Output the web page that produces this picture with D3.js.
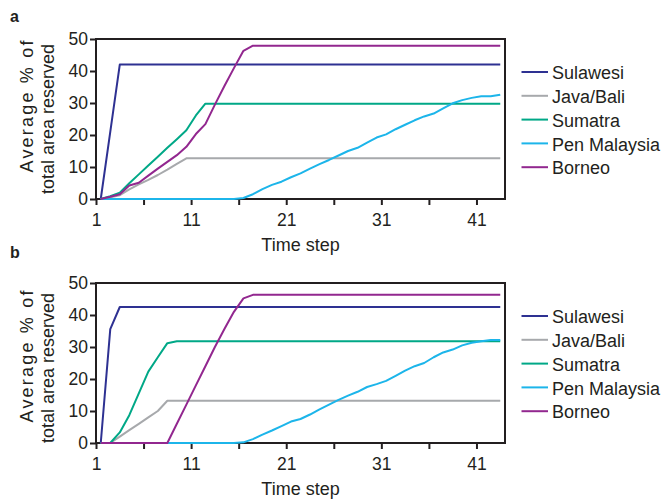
<!DOCTYPE html>
<meta charset="utf-8">
<script src="https://d3js.org/d3.v7.min.js"></script>
<style>
  body { margin: 0; background: #fff; }
  text { font-family: "Liberation Sans", Arial, Helvetica, sans-serif; fill: #231f20; }
</style>
<div id="chart"></div>
<script>

    // categories (time steps) and tick labels
    var steps = d3.range(1, 44);
    var xTickValues = [0.5, 5.5, 10.5, 15.5, 20.5, 25.5, 30.5, 35.5, 40.5];
    var xTickLabels = ["1", "", "11", "", "21", "", "31", "", "41"];
    var yTicks = [0, 10, 20, 30, 40, 50];

    var names = ["Sulawesi", "Java/Bali", "Sumatra", "Pen Malaysia", "Borneo"];
    var colors = ["#2e3192", "#a7a9ac", "#00a887", "#1cb5ea", "#92278f"];

    // panel a
    var sulawesiA = [0, 21, 42, 42, 42, 42, 42, 42, 42, 42, 42, 42, 42, 42, 42, 42, 42, 42, 42, 42, 42, 42, 42, 42, 42, 42, 42, 42, 42, 42, 42, 42, 42, 42, 42, 42, 42, 42, 42, 42, 42, 42, 42];
    var javaA = [0, 0.5, 1.2, 3.0, 4.6, 6.0, 7.5, 9.2, 11.0, 12.7, 12.7, 12.7, 12.7, 12.7, 12.7, 12.7, 12.7, 12.7, 12.7, 12.7, 12.7, 12.7, 12.7, 12.7, 12.7, 12.7, 12.7, 12.7, 12.7, 12.7, 12.7, 12.7, 12.7, 12.7, 12.7, 12.7, 12.7, 12.7, 12.7, 12.7, 12.7, 12.7, 12.7];
    var sumatraA = [0, 0.9, 2.0, 4.9, 7.7, 10.5, 13.2, 16.0, 18.7, 21.5, 26.1, 29.8, 29.8, 29.8, 29.8, 29.8, 29.8, 29.8, 29.8, 29.8, 29.8, 29.8, 29.8, 29.8, 29.8, 29.8, 29.8, 29.8, 29.8, 29.8, 29.8, 29.8, 29.8, 29.8, 29.8, 29.8, 29.8, 29.8, 29.8, 29.8, 29.8, 29.8, 29.8];
    var penA = [0, 0, 0, 0, 0, 0, 0, 0, 0, 0, 0, 0, 0, 0, 0, 0.3, 1.5, 3.1, 4.4, 5.4, 6.8, 8.0, 9.5, 10.9, 12.2, 13.6, 15.0, 16.0, 17.6, 19.2, 20.2, 21.8, 23.2, 24.6, 25.8, 26.7, 28.3, 29.9, 30.9, 31.6, 32.1, 32.1, 32.6];
    var borneoA = [0, 0.7, 1.5, 4.2, 5.1, 7.3, 9.5, 11.6, 13.7, 16.3, 20.3, 23.4, 29.5, 35.3, 40.9, 46.3, 47.9, 47.9, 47.9, 47.9, 47.9, 47.9, 47.9, 47.9, 47.9, 47.9, 47.9, 47.9, 47.9, 47.9, 47.9, 47.9, 47.9, 47.9, 47.9, 47.9, 47.9, 47.9, 47.9, 47.9, 47.9, 47.9, 47.9];

    // panel b
    var sulawesiB = [0, 35.6, 42.5, 42.5, 42.5, 42.5, 42.5, 42.5, 42.5, 42.5, 42.5, 42.5, 42.5, 42.5, 42.5, 42.5, 42.5, 42.5, 42.5, 42.5, 42.5, 42.5, 42.5, 42.5, 42.5, 42.5, 42.5, 42.5, 42.5, 42.5, 42.5, 42.5, 42.5, 42.5, 42.5, 42.5, 42.5, 42.5, 42.5, 42.5, 42.5, 42.5, 42.5];
    var javaB = [0, 0, 2.0, 4.0, 6.0, 8.0, 10.0, 13.2, 13.2, 13.2, 13.2, 13.2, 13.2, 13.2, 13.2, 13.2, 13.2, 13.2, 13.2, 13.2, 13.2, 13.2, 13.2, 13.2, 13.2, 13.2, 13.2, 13.2, 13.2, 13.2, 13.2, 13.2, 13.2, 13.2, 13.2, 13.2, 13.2, 13.2, 13.2, 13.2, 13.2, 13.2, 13.2];
    var sumatraB = [0, 0, 3.3, 8.7, 15.5, 22.3, 26.8, 31.2, 31.8, 31.8, 31.8, 31.8, 31.8, 31.8, 31.8, 31.8, 31.8, 31.8, 31.8, 31.8, 31.8, 31.8, 31.8, 31.8, 31.8, 31.8, 31.8, 31.8, 31.8, 31.8, 31.8, 31.8, 31.8, 31.8, 31.8, 31.8, 31.8, 31.8, 31.8, 31.8, 31.8, 31.8, 31.8];
    var penB = [0, 0, 0, 0, 0, 0, 0, 0, 0, 0, 0, 0, 0, 0, 0, 0.2, 1.2, 2.6, 3.9, 5.3, 6.7, 7.5, 8.9, 10.5, 12.0, 13.5, 14.8, 16.0, 17.5, 18.4, 19.4, 21.0, 22.6, 24.0, 25.0, 26.8, 28.3, 29.2, 30.5, 31.3, 31.8, 32.2, 32.2];
    var borneoB = [0, 0, 0, 0, 0, 0, 0, 0, 6.0, 12.0, 18.0, 24.0, 30.0, 35.6, 41.0, 45.2, 46.3, 46.3, 46.3, 46.3, 46.3, 46.3, 46.3, 46.3, 46.3, 46.3, 46.3, 46.3, 46.3, 46.3, 46.3, 46.3, 46.3, 46.3, 46.3, 46.3, 46.3, 46.3, 46.3, 46.3, 46.3, 46.3, 46.3];

    var width = 664, height = 499;
    var left = 96, right = 505, plotH = 160;

    var svg = d3.select("#chart")
        .append("svg")
        .attr("width", width)
        .attr("height", height);

    var x = d3.scaleLinear().domain([0.5, 43.5]).range([left, right]);

    // titleY: centres of the two rotated y-title lines, relative to panel top
    function drawPanel(top, label, labelY, titleY, series) {
        var g = svg.append("g");
        var y = d3.scaleLinear().domain([0, 50]).range([top + plotH, top]);

        // frame (lines are drawn on top of it)
        g.append("rect")
            .attr("x", left)
            .attr("y", top)
            .attr("width", right - left)
            .attr("height", plotH)
            .attr("fill", "none")
            .attr("stroke", "#231f20")
            .attr("stroke-width", 2);

        // x axis
        var xAxis = g.append("g")
            .attr("transform", "translate(0," + (top + plotH) + ")")
            .call(d3.axisBottom(x)
                .tickValues(xTickValues)
                .tickFormat(function (d, i) { return xTickLabels[i]; })
                .tickSize(6)
                .tickPadding(9));
        // y axis
        var yAxis = g.append("g")
            .attr("transform", "translate(" + left + ",0)")
            .call(d3.axisLeft(y).tickValues(yTicks).tickSize(6).tickPadding(2));

        [xAxis, yAxis].forEach(function (a) {
            a.select(".domain").remove();
            a.selectAll("line").attr("stroke", "#231f20").attr("stroke-width", 2);
            a.selectAll("text")
                .style("font-size", "17.5px")
                .style("font-family", "'Liberation Sans', Arial, sans-serif")
                .attr("fill", "#231f20");
        });

        // lines
        var line = d3.line()
            .x(function (d, i) { return x(steps[i]); })
            .y(function (d) { return y(d); });

        series.forEach(function (s, i) {
            g.append("path")
                .datum(s)
                .attr("fill", "none")
                .attr("stroke", colors[i])
                .attr("stroke-width", 2)
                .attr("stroke-linejoin", "round")
                .attr("d", line);
        });

        // axis titles
        g.append("text")
            .attr("x", (left + right) / 2)
            .attr("y", top + plotH + 52)
            .attr("text-anchor", "middle")
            .style("font-size", "18px")
            .text("Time step");

        g.append("text")
            .attr("transform", "translate(33," + (top + titleY[0]) + ") rotate(-90)")
            .attr("text-anchor", "middle")
            .attr("textLength", 132)
            .attr("lengthAdjust", "spacing")
            .style("font-size", "18px")
            .text("Average % of");
        g.append("text")
            .attr("transform", "translate(53.5," + (top + titleY[1]) + ") rotate(-90)")
            .attr("text-anchor", "middle")
            .style("font-size", "18px")
            .text("total area reserved");

        // panel letter
        svg.append("text")
            .attr("x", 10)
            .attr("y", labelY)
            .style("font-size", "16px")
            .style("font-weight", "bold")
            .text(label);

        // legend
        var legend = g.append("g");
        names.forEach(function (n, i) {
            var ly = top + 33 + i * 23.8;
            legend.append("line")
                .attr("x1", 521.5).attr("x2", 548)
                .attr("y1", ly).attr("y2", ly)
                .attr("stroke", colors[i])
                .attr("stroke-width", 2);
            legend.append("text")
                .attr("x", 552)
                .attr("y", ly)
                .attr("dy", "0.4em")
                .style("font-size", "18px")
                .text(n);
        });
    }

    drawPanel(39, "a", 21.5, [67.5, 80], [sulawesiA, javaA, sumatraA, penA, borneoA]);
    drawPanel(283, "b", 258, [73.5, 85], [sulawesiB, javaB, sumatraB, penB, borneoB]);
</script>
